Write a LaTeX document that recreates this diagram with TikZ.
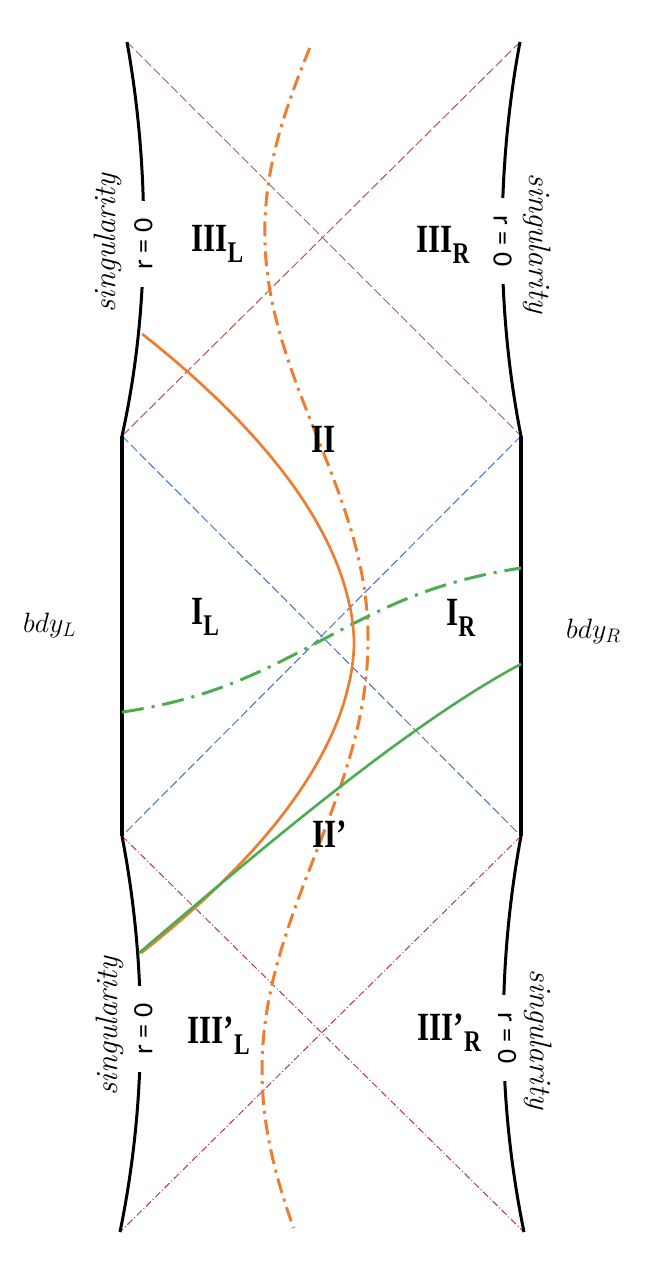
\documentclass[tikz,border=0pt]{standalone}
\usepackage{fix-cm}
\usepackage{fontspec}
\newfontfamily\regfont[FakeStretch=0.78]{Liberation Serif}
\newfontfamily\rzfont{Carlito}
\definecolor{orng}{RGB}{237,125,49}
\definecolor{grn}{RGB}{76,172,80}
\definecolor{blu}{RGB}{68,114,196}
\definecolor{rdd}{RGB}{192,80,77}
\definecolor{rdk}{RGB}{180,60,60}
\newcommand\rsub[1]{\raisebox{-11pt}{\fontsize{30}{30}\selectfont #1}}
\begin{document}
\begin{tikzpicture}[x=1pt,y=-1pt,
  hzred/.style={rdd,line width=1pt,dash pattern=on 9pt off 3.5pt},
  hzblue/.style={blu,line width=1pt,dash pattern=on 9pt off 3.5pt},
  hzrdd/.style={rdk,line width=1pt,dash pattern=on 7pt off 2.5pt on 1pt off 2.5pt},
  singline/.style={black,line width=3pt},
  bdyline/.style={black,line width=4pt},
  orsolid/.style={orng,line width=2.7pt},
  ordd/.style={orng,line width=3pt,dash pattern=on 15pt off 6pt on 3pt off 6pt},
  grsolid/.style={grn,line width=2.6pt},
  grdd/.style={grn,line width=3pt,dash pattern=on 22pt off 8pt on 3pt off 8pt},
  reglab/.style={inner sep=0pt,anchor=base west,font=\regfont\bfseries\fontsize{40}{40}\selectfont},
  rzero/.style={inner xsep=18pt,inner ysep=1pt,fill=white,font=\rzfont\fontsize{28}{28}\selectfont},
  singlab/.style={inner sep=0pt,font=\itshape\fontsize{31}{31}\selectfont},
  bdylab/.style={inner sep=0pt,anchor=base west,font=\fontsize{28}{28}\selectfont}]
\useasboundingbox (0,0) rectangle (648,1274);
\coordinate (TL) at (127,42);
\coordinate (TR) at (520,42);
\coordinate (LT) at (122,436);
\coordinate (RT) at (521,436);
\coordinate (LB) at (122,836);
\coordinate (RB) at (521,836);
\coordinate (BL) at (120,1232);
\coordinate (BR) at (524,1232);
\coordinate (E) at (139,953);
\coordinate (G) at (521,664);
% horizons
\draw[hzred] (TL) -- (RT);
\draw[hzred] (TR) -- (LT);
\draw[hzblue] (LT) -- (RB);
\draw[hzblue] (RT) -- (LB);
\draw[hzrdd] (LB) -- (BR);
\draw[hzrdd] (RB) -- (BL);
% singularities
\draw[singline] (TL) .. controls (150,170) and (150,310) .. (LT);
\draw[singline] (TR) .. controls (496,170) and (496,310) .. (RT);
\draw[singline] (LB) .. controls (147,966) and (147,1100) .. (BL);
\draw[singline] (RB) .. controls (497,966) and (497,1100) .. (BR);
% boundaries
\draw[bdyline] (LT) -- (LB);
\draw[bdyline] (RT) -- (RB);
% curves
\draw[ordd] plot[domain=48:640,samples=90,variable=\t] ({315-53*cos(180+0.439024*(\t-640))+4*(640-\t)/592},\t)
  -- plot[domain=640:1228,samples=90,variable=\t] ({315-53*cos(180+0.418605*(\t-640))},\t);
\draw[grdd] plot[domain=122:521,samples=90,variable=\t] (\t,{640-85*tanh((\t-322)/160)});
\draw[orsolid] plot[domain=-309:310,samples=121,variable=\t] ({354-213*pow(abs(\t)/310+0.0001,1.85)},{643+\t});
\draw[grsolid] (E) .. controls (253,856) and (406,725) .. (G);
% r = 0 labels
\node[rzero,rotate=90] (rz1) at (143.5,244) {r = 0};
\node[rzero,rotate=-90] (rz2) at (502.5,241) {r = 0};
\node[rzero,rotate=90] (rz3) at (143.5,1029) {r = 0};
\node[rzero,rotate=-90] (rz4) at (507,1038) {r = 0};
% singularity labels
\node[singlab,rotate=90] (s1) at (108,243) {singularity};
\node[singlab,rotate=-90] (s2) at (537.5,243.5) {singularity};
\node[singlab,rotate=90] (s3) at (110,1026) {singularity};
\node[singlab,rotate=-90] (s4) at (538.5,1039.5) {singularity};
% region labels
\node[reglab] (r3l) at (191,251) {III\rsub{L}};
\node[reglab] (r3r) at (416,252) {III\rsub{R}};
\node[reglab] (r2) at (311,452) {II};
\node[reglab] (r1l) at (191,624) {I\rsub{L}};
\node[reglab] (r1r) at (446,625) {I\rsub{R}};
\node[reglab] (r2p) at (312,847) {II’};
\node[reglab] (r3pl) at (187,1043) {III’\rsub{L}};
\node[reglab] (r3pr) at (417,1040) {III’\rsub{R}};
% boundary labels
\node[bdylab] (bl) at (23,632) {$bdy_L$};
\node[bdylab] (br) at (566,638) {$bdy_R$};
\end{tikzpicture}
\end{document}
